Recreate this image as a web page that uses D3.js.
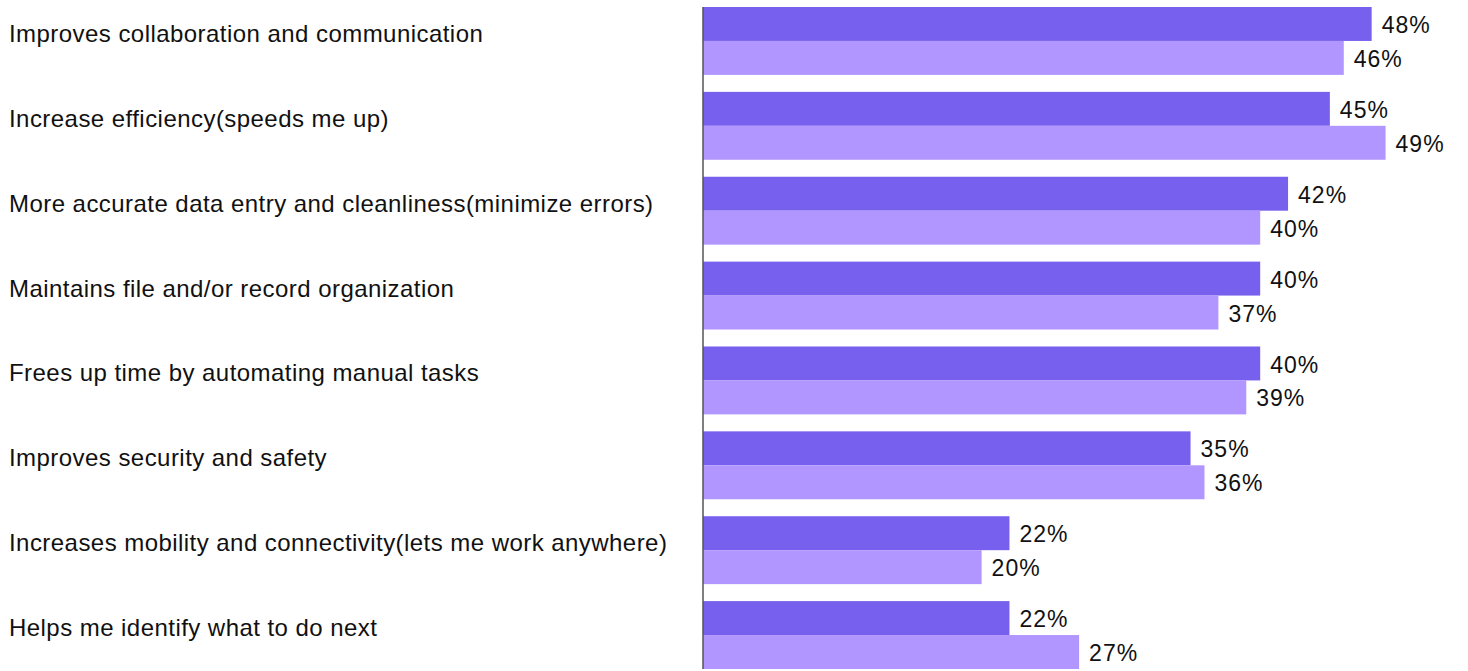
<!DOCTYPE html>
<html>
<head>
<meta charset="utf-8">
<script src="https://cdn.jsdelivr.net/npm/d3@7"></script>
<style>
  html, body { margin: 0; padding: 0; background: #fff; }
  svg { display: block; font-family: "Liberation Sans", Arial, Helvetica, sans-serif; }
</style>
</head>
<body>
<svg id="chart" width="1468" height="671"></svg>
<script>
const categories = [
  "Improves collaboration and communication",
  "Increase efficiency(speeds me up)",
  "More accurate data entry and cleanliness(minimize errors)",
  "Maintains file and/or record organization",
  "Frees up time by automating manual tasks",
  "Improves security and safety",
  "Increases mobility and connectivity(lets me work anywhere)",
  "Helps me identify what to do next"
];
const seriesA = [48, 45, 42, 40, 40, 35, 22, 22];
const seriesB = [46, 49, 40, 37, 39, 36, 20, 27];
const seriesKeys = ["A", "B"];
const seriesColors = ["#7760EE", "#B196FF"];

const svg = d3.select("#chart");
const x = d3.scaleLinear().domain([0, 50]).range([703, 1399.5]);
const y0 = d3.scaleBand().domain(categories).range([7, 669]).paddingInner(0.2).paddingOuter(0);
const y1 = d3.scaleBand().domain(seriesKeys).range([0, y0.bandwidth()]);

const data = categories.map((c, i) => ({ cat: c, vals: [
  { key: "A", v: seriesA[i] }, { key: "B", v: seriesB[i] }
]}));

const g = svg.selectAll("g.grp").data(data).join("g")
  .attr("class", "grp")
  .attr("transform", d => `translate(0,${y0(d.cat)})`);

g.selectAll("rect").data(d => d.vals).join("rect")
  .attr("x", x(0))
  .attr("y", d => y1(d.key))
  .attr("width", d => x(d.v) - x(0))
  .attr("height", y1.bandwidth())
  .attr("fill", (d, i) => seriesColors[i]);

g.selectAll("text.val").data(d => d.vals).join("text")
  .attr("class", "val")
  .attr("x", d => x(d.v) + 10)
  .attr("y", d => y1(d.key) + y1.bandwidth() / 2 + 1)
  .attr("dy", "0.35em")
  .attr("font-size", 23)
  .attr("letter-spacing", 1)
  .attr("fill", "#111")
  .text(d => d.v + "%");

g.append("text")
  .attr("class", "cat")
  .attr("x", 9)
  .attr("y", 35)
  .attr("font-size", 24)
  .attr("letter-spacing", 0.45)
  .attr("fill", "#111")
  .text(d => d.cat);

// axis line
svg.append("g")
  .attr("transform", `translate(${x(0)},0)`)
  .call(d3.axisLeft(y0).tickSize(0).tickFormat(""))
  .call(s => s.select(".domain").attr("stroke", "#555").attr("stroke-width", 1.5).attr("d", "M0,7V669"));
</script>
</body>
</html>
